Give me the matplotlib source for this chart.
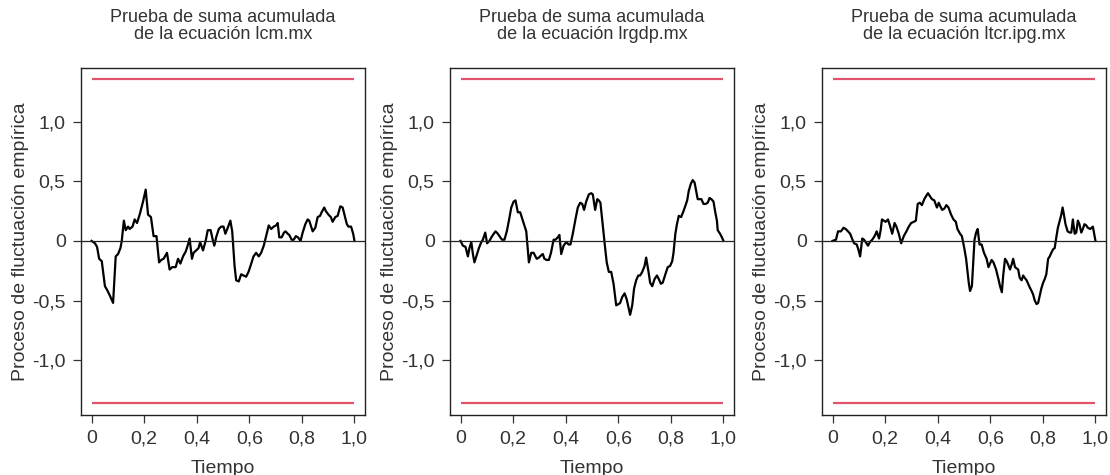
import matplotlib
matplotlib.use('Agg')
import matplotlib.pyplot as plt

plt.rcParams['font.family'] = ['Liberation Sans', 'DejaVu Sans']

# limites criticos (5 %)
limite = 1.358

titulos = ['Prueba de suma acumulada\nde la ecuación lcm.mx',
           'Prueba de suma acumulada\nde la ecuación lrgdp.mx',
           'Prueba de suma acumulada\nde la ecuación ltcr.ipg.mx']

t1 = [0, .013, .021, .029, .039, .051, .059, .070, .082, .092, .101, .110, .115, .123, .130, .139, .145,
      .156, .164, .173, .183, .196, .206, .215, .226, .236, .247, .257, .265, .274, .287, .297, .307, .320,
      .329, .338, .348, .358, .367, .373, .382, .388, .398, .407, .413, .424, .434, .442, .453, .461, .467,
      .474, .484, .493, .502, .509, .518, .528, .535, .544, .550, .560, .569, .578, .588, .597, .606, .616,
      .626, .636, .645, .655, .664, .674, .683, .693, .702, .708, .714, .723, .732, .738, .746, .752, .761,
      .769, .777, .785, .795, .803, .813, .822, .828, .841, .851, .860, .869, .875, .885, .891, .901, .910,
      .917, .927, .936, .946, .955, .963, .971, .977, .987, .995, 1.0]
v1 = [0, -.02, -.05, -.15, -.17, -.38, -.41, -.46, -.52, -.13, -.11, -.06, 0, .17, .09, .12, .10,
      .12, .18, .15, .22, .33, .43, .22, .20, .04, .04, -.18, -.16, -.15, -.10, -.24, -.22, -.22,
      -.15, -.19, -.13, -.09, -.03, .02, -.15, -.10, -.08, -.06, -.01, -.08, 0, .09, .09, .01, -.04,
      .03, .10, .12, .12, .06, .11, .17, .08, -.21, -.33, -.34, -.28, -.29, -.30, -.26, -.20, -.13,
      -.10, -.13, -.10, -.04, .04, .13, .10, .12, .13, .15, .03, .03, .07, .08, .06, .05, .01,
      .01, .04, .03, 0, .07, .14, .18, .17, .08, .11, .20, .21, .24, .28, .25, .22, .20,
      .16, .20, .21, .29, .28, .21, .14, .12, .12, .06, 0]

t2 = [0, .009, .019, .028, .034, .041, .047, .053, .060, .070, .079, .085, .094, .101, .110, .120, .133,
      .142, .151, .158, .167, .176, .184, .193, .202, .209, .218, .227, .237, .250, .260, .269, .278, .285,
      .290, .298, .307, .313, .319, .328, .336, .344, .354, .361, .370, .376, .383, .392, .402, .411, .418,
      .427, .437, .446, .455, .463, .470, .478, .488, .497, .503, .512, .520, .526, .532, .541, .549, .556,
      .564, .573, .582, .592, .601, .607, .615, .624, .632, .640, .645, .653, .660, .668, .676, .683, .691,
      .700, .706, .715, .721, .729, .738, .747, .754, .762, .769, .779, .788, .797, .805, .810, .817, .823,
      .830, .839, .848, .856, .862, .868, .876, .883, .890, .896, .902, .909, .916, .924, .932, .940, .947,
      .954, .962, .968, .975, .978, .987, .994, 1.0]
v2 = [0, -.04, -.05, -.13, -.06, -.01, -.11, -.18, -.13, -.06, -.01, .01, .07, -.02, 0, .04, .08,
      .06, .03, .01, .01, .08, .17, .28, .33, .34, .24, .24, .17, .08, -.18, -.10, -.10, -.13,
      -.15, -.14, -.12, -.11, -.15, -.16, -.16, -.10, .01, .01, .03, .05, -.11, -.04, -.01, -.03, -.03,
      .06, .18, .28, .32, .31, .26, .33, .39, .40, .39, .26, .35, .34, .32, .13, -.04, -.18,
      -.26, -.26, -.36, -.54, -.53, -.52, -.47, -.44, -.49, -.57, -.62, -.54, -.40, -.33, -.29, -.29, -.26,
      -.21, -.14, -.26, -.35, -.38, -.32, -.29, -.32, -.36, -.35, -.28, -.22, -.21, -.17, -.10, .06, .14,
      .21, .20, .25, .30, .34, .42, .48, .51, .49, .42, .35, .35, .35, .31, .31, .32, .36,
      .35, .33, .25, .17, .09, .06, .03, 0]

t3 = [0, .013, .021, .032, .042, .050, .059, .067, .076, .082, .092, .098, .105, .113, .120, .126, .135,
      .142, .151, .160, .168, .177, .183, .188, .195, .202, .211, .218, .227, .236, .243, .252, .261, .271,
      .281, .290, .299, .309, .317, .324, .332, .340, .349, .357, .363, .369, .378, .387, .397, .404, .410,
      .417, .425, .433, .441, .451, .460, .469, .475, .485, .492, .501, .508, .513, .518, .523, .530, .536,
      .540, .546, .552, .559, .567, .576, .586, .593, .599, .605, .612, .622, .631, .637, .644, .649, .656,
      .662, .668, .675, .681, .687, .694, .700, .706, .712, .719, .725, .731, .738, .744, .750, .757, .763,
      .769, .776, .782, .788, .794, .801, .807, .813, .820, .826, .832, .839, .845, .851, .857, .864, .870,
      .875, .880, .886, .894, .902, .908, .914, .921, .927, .933, .939, .946, .952, .958, .965, .971, .980,
      .990, .995, 1.0]
v3 = [0, .01, .08, .08, .11, .10, .08, .06, .01, -.02, -.03, -.07, -.13, .02, .01, -.01, -.04,
      -.01, .01, .04, .08, .02, .09, .18, .17, .16, .18, .13, .06, .15, .12, .06, -.02, .04,
      .08, .12, .15, .16, .17, .31, .32, .30, .35, .38, .40, .38, .35, .34, .28, .32, .29,
      .26, .27, .30, .28, .22, .18, .16, .10, .06, .04, -.06, -.15, -.25, -.35, -.42, -.38, -.15,
      .01, .07, .10, -.03, -.03, -.10, -.15, -.22, -.19, -.16, -.18, -.24, -.32, -.38, -.43, -.29, -.15,
      -.17, -.20, -.24, -.20, -.15, -.22, -.23, -.24, -.31, -.33, -.29, -.31, -.33, -.36, -.39, -.42, -.45,
      -.50, -.53, -.52, -.46, -.40, -.35, -.32, -.28, -.15, -.13, -.10, -.07, -.06, .03, .11, .17, .22,
      .28, .22, .14, .08, .07, .07, .18, .06, .07, .17, .14, .07, .10, .14, .13, .11, .10,
      .12, .06, 0]

series = [(t1, v1), (t2, v2), (t3, v3)]

xticks = [0, 0.2, 0.4, 0.6, 0.8, 1.0]
xticklabels = ['0', '0,2', '0,4', '0,6', '0,8', '1,0']
yticks = [-1.0, -0.5, 0, 0.5, 1.0]
yticklabels = ['-1,0', '-0,5', '0', '0,5', '1,0']

fig = plt.figure(figsize=(11.1, 4.75), dpi=100)
lefts = [81, 450, 822]
for i, (t, v) in enumerate(series):
    ax = fig.add_axes([lefts[i] / 1110, 60 / 475, 284 / 1110, 347 / 475])
    ax.plot(t, v, color='black', lw=1.6)
    ax.axhline(0, color='#222222', lw=0.9)
    ax.hlines([limite, -limite], 0, 1, color='#DF536B', lw=1.6)
    ax.set_xlim(-0.04, 1.04)
    ax.set_ylim(-1.46, 1.45)
    ax.set_xticks(xticks)
    ax.set_xticklabels(xticklabels)
    ax.set_yticks(yticks)
    ax.set_yticklabels(yticklabels)
    ax.tick_params(labelsize=14, length=6, width=0.9, color='#333333', labelcolor='#333333', pad=5)
    for s in ax.spines.values():
        s.set_color('#222222')
        s.set_linewidth(1.0)
    ax.set_xlabel('Tiempo', fontsize=14, color='#333333', labelpad=9)
    ax.set_ylabel('Proceso de fluctuación empírica', fontsize=14, color='#333333', labelpad=2)
    ax.set_title(titulos[i], fontsize=13, color='#333333', pad=21, linespacing=1.0)

fig.savefig('out.png', dpi=100)
